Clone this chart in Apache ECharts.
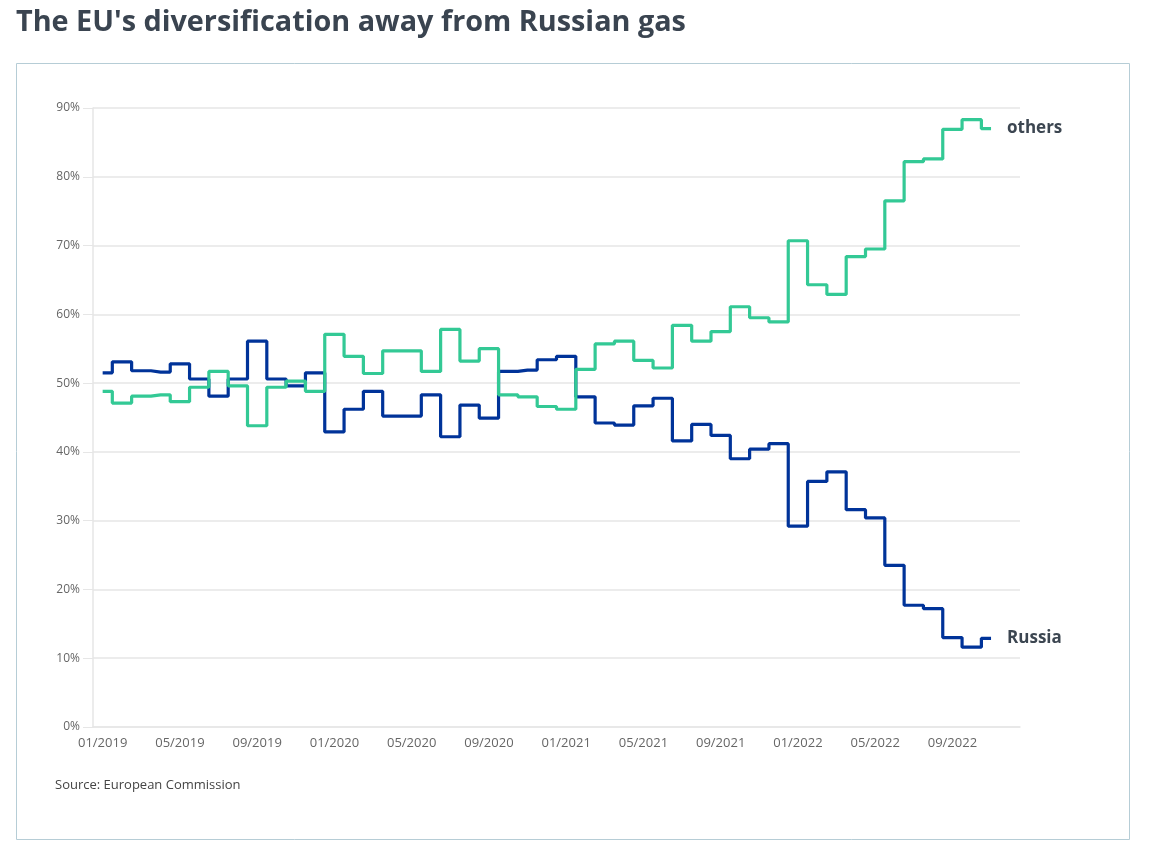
<!DOCTYPE html>
<html>
<head>
<meta charset="utf-8">
<script src="https://cdn.jsdelivr.net/npm/echarts@6/dist/echarts.min.js"></script>
<style>
  html, body { margin: 0; padding: 0; background: #fff; }
  #chart { width: 1149px; height: 856px; }
</style>
</head>
<body>
<div id="chart"></div>
<script>
// monthly categories 01/2019 .. 12/2022 (last month has no data)
var months = [];
for (var yr = 2019; yr <= 2022; yr++) {
  for (var m = 1; m <= 12; m++) {
    months.push((m < 10 ? "0" + m : "" + m) + "/" + yr);
  }
}

// share of EU gas imports, %
var russia = [
  51.5, 53.1, 51.8, 51.6, 52.8, 50.6, 48.1, 50.6, 56.1, 50.6, 49.6, 51.5,
  42.9, 46.2, 48.8, 45.2, 45.2, 48.3, 42.2, 46.8, 44.9, 51.7, 51.9, 53.4,
  53.9, 48.0, 44.2, 43.9, 46.7, 47.8, 41.6, 44.0, 42.4, 39.0, 40.4, 41.2,
  29.2, 35.7, 37.1, 31.6, 30.4, 23.5, 17.7, 17.2, 13.0, 11.6, 12.9
];
var others = [
  48.8, 47.1, 48.1, 48.3, 47.3, 49.4, 51.7, 49.6, 43.8, 49.4, 50.3, 48.8,
  57.1, 53.9, 51.4, 54.7, 54.7, 51.7, 57.8, 53.2, 55.0, 48.3, 48.0, 46.6,
  46.2, 52.0, 55.7, 56.1, 53.3, 52.2, 58.4, 56.1, 57.5, 61.1, 59.5, 58.9,
  70.7, 64.3, 62.9, 68.4, 69.5, 76.5, 82.2, 82.6, 86.9, 88.3, 87.0
];

var chartDom = document.getElementById("chart");
var myChart = echarts.init(chartDom);

var font = "'Open Sans', 'Noto Sans', sans-serif";
var endLabelStyle = {
  show: true,
  distance: 16,
  fontFamily: font,
  fontSize: 17,
  fontWeight: "bold",
  color: "#3c4651"
};

var option = {
  animation: false,
  backgroundColor: "#fff",
  textStyle: { fontFamily: font },
  title: {
    text: "The EU's diversification away from Russian gas",
    left: 11,
    top: 3,
    textStyle: {
      fontFamily: font,
      fontSize: 28.8,
      fontWeight: "bold",
      color: "#3a4450"
    }
  },
  graphic: [
    {
      type: "rect",
      shape: { x: 16.5, y: 63.5, width: 1113, height: 776 },
      style: { fill: "none", stroke: "#b6cdd6", lineWidth: 1 },
      z: -1
    },
    {
      type: "text",
      x: 55,
      y: 785.5,
      style: {
        text: "Source: European Commission",
        fontFamily: font,
        fontSize: 13,
        fill: "#444",
        verticalAlign: "middle"
      }
    }
  ],
  grid: {
    left: 93,
    right: 129,
    top: 108,
    bottom: 129
  },
  xAxis: {
    type: "category",
    data: months,
    boundaryGap: true,
    axisLine: { lineStyle: { color: "#e6e6e6", width: 1.5 } },
    axisTick: {
      alignWithLabel: true,
      interval: 0,
      length: 8,
      lineStyle: { color: "#e0e0e0" }
    },
    axisLabel: {
      interval: 3,
      fontFamily: font,
      fontSize: 13,
      color: "#666",
      margin: 10
    },
    splitLine: { show: false }
  },
  yAxis: {
    type: "value",
    min: 0,
    max: 90,
    interval: 10,
    axisLine: { show: true, lineStyle: { color: "#e6e6e6", width: 1.5 } },
    axisTick: { show: true, length: 10, lineStyle: { color: "#e6e6e6" } },
    axisLabel: {
      formatter: "{value}%",
      fontFamily: font,
      fontSize: 12,
      color: "#666",
      margin: 13
    },
    splitLine: { lineStyle: { color: "#e6e6e6", width: 1.5 } }
  },
  series: [
    {
      name: "Russia",
      type: "line",
      step: "middle",
      data: russia,
      symbol: "none",
      lineStyle: { color: "#003399", width: 3.2 },
      itemStyle: { color: "#003399" },
      endLabel: Object.assign({ formatter: "Russia" }, endLabelStyle)
    },
    {
      name: "others",
      type: "line",
      step: "middle",
      data: others,
      symbol: "none",
      lineStyle: { color: "#33c995", width: 3.2 },
      itemStyle: { color: "#33c995" },
      endLabel: Object.assign({ formatter: "others" }, endLabelStyle)
    }
  ]
};

myChart.setOption(option);
</script>
</body>
</html>
